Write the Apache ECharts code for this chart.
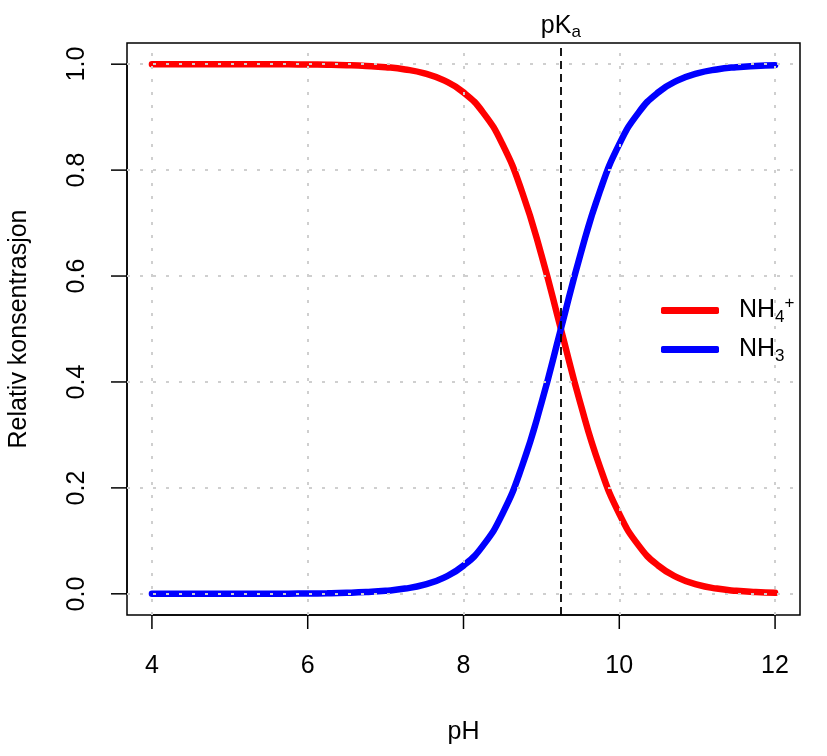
<!DOCTYPE html>
<html>
<head>
<meta charset="utf-8">
<script src="https://cdn.jsdelivr.net/npm/echarts@6/dist/echarts.min.js"></script>
<style>html,body{margin:0;padding:0;background:#fff;}#c{width:827px;height:756px;}</style>
</head>
<body>
<div id="c"></div>
<script>
const phValues = [4.0, 4.5, 5.0, 5.5, 5.75, 6.0, 6.25, 6.5, 6.75, 7.0, 7.25, 7.5, 7.75, 8.0, 8.25, 8.5, 8.75, 9.0, 9.25, 9.5, 9.75, 10.0, 10.25, 10.5, 10.75, 11.0, 11.25, 11.5, 11.75, 12.0];
const nh4Values = [1.000, 1.000, 1.000, 0.9998, 0.9997, 0.9994, 0.9990, 0.9982, 0.9968, 0.9944, 0.9901, 0.9825, 0.9693, 0.9468, 0.9091, 0.8490, 0.7597, 0.6401, 0.5000, 0.3599, 0.2403, 0.1510, 0.0909, 0.0532, 0.0307, 0.0175, 0.0099, 0.0056, 0.0032, 0.0018];
const nh3Values = [0.000, 0.000, 0.000, 0.0002, 0.0003, 0.0006, 0.0010, 0.0018, 0.0032, 0.0056, 0.0099, 0.0175, 0.0307, 0.0532, 0.0909, 0.1510, 0.2403, 0.3599, 0.5000, 0.6401, 0.7597, 0.8490, 0.9091, 0.9468, 0.9693, 0.9825, 0.9901, 0.9944, 0.9968, 0.9982];
const xTicks = [4, 6, 8, 10, 12];
const yTicks = [0, 0.2, 0.4, 0.6, 0.8, 1.0];
const pKa = 9.25;

const X_MIN = 3.68, X_MAX = 12.32, Y_MIN = -0.04, Y_MAX = 1.04;
const FONT = 'Liberation Sans';
const chart = echarts.init(document.getElementById('c'));
const gridLines = xTicks.map(v => ({xAxis: v})).concat(yTicks.map(v => ({yAxis: v})));

chart.setOption({
  animation: false,
  textStyle: {fontFamily: FONT, color: '#000'},
  grid: [
    {left: 127, right: 27, top: 43, bottom: 141, show: true, borderColor: '#000', borderWidth: 1.5,
      backgroundColor: 'transparent', outerBoundsMode: 'none', containLabel: false},
    {left: 152, right: 52, top: 64, bottom: 162, show: false, outerBoundsMode: 'none', containLabel: false}
  ],
  xAxis: [
    {gridIndex: 0, type: 'value', min: X_MIN, max: X_MAX, show: false},
    {
      gridIndex: 1, type: 'value', min: 4, max: 12, interval: 2, offset: 21,
      name: 'pH', nameLocation: 'middle', nameGap: 105,
      nameTextStyle: {fontSize: 25, fontFamily: FONT, color: '#000'},
      axisLine: {show: true, onZero: false, lineStyle: {color: '#000', width: 1.5}},
      axisTick: {show: false},
      axisLabel: {fontSize: 25, fontFamily: FONT, color: '#000', margin: 39},
      splitLine: {show: false}
    }
  ],
  yAxis: [
    {gridIndex: 0, type: 'value', min: Y_MIN, max: Y_MAX, show: false},
    {
      gridIndex: 1, type: 'value', min: 0, max: 1, interval: 0.2, offset: 25,
      name: 'Relativ konsentrasjon', nameLocation: 'middle', nameGap: 95,
      nameTextStyle: {fontSize: 25, fontFamily: FONT, color: '#000'},
      axisLine: {show: true, onZero: false, lineStyle: {color: '#000', width: 1.5}},
      axisTick: {show: false},
      axisLabel: {rotate: 90, fontSize: 25, fontFamily: FONT, color: '#000', margin: 37,
        formatter: v => v.toFixed(1)},
      splitLine: {show: false}
    }
  ],
  legend: {
    data: ['NH4', 'NH3'],
    orient: 'vertical', left: 656, top: 290,
    icon: 'roundRect', itemWidth: 58, itemHeight: 7, itemGap: 11,
    textStyle: {
      fontSize: 25, fontFamily: FONT, color: '#000', padding: [0, 0, 0, 15],
      rich: {
        n: {fontSize: 25, fontFamily: FONT, color: '#000'},
        sub: {fontSize: 17, fontFamily: FONT, color: '#000', verticalAlign: 'bottom', padding: [14, 0, 0, 0]},
        sup: {fontSize: 17, fontFamily: FONT, color: '#000', verticalAlign: 'top', padding: [0, 0, 14, 0]}
      }
    },
    formatter: name => name === 'NH4' ? '{n|NH}{sub|4}{sup|+}' : '{n|NH}{sub|3}'
  },
  series: [
    {
      name: 'NH4', type: 'line', smooth: true, showSymbol: false, z: 2,
      xAxisIndex: 0, yAxisIndex: 0,
      color: '#ff0000',
      lineStyle: {color: '#ff0000', width: 6.5, cap: 'round'},
      data: phValues.map((x, i) => [x, nh4Values[i]])
    },
    {
      name: 'NH3', type: 'line', smooth: true, showSymbol: false, z: 2,
      xAxisIndex: 0, yAxisIndex: 0,
      color: '#0000ff',
      lineStyle: {color: '#0000ff', width: 6.5, cap: 'round'},
      data: phValues.map((x, i) => [x, nh3Values[i]])
    },
    {
      name: 'grid', type: 'line', data: [], z: 10,
      xAxisIndex: 0, yAxisIndex: 0,
      markLine: {
        silent: true, symbol: 'none', animation: false,
        label: {show: false},
        lineStyle: {color: '#cfcfcf', type: [3, 10], width: 2},
        data: gridLines
      }
    },
    {
      name: 'pka', type: 'line', data: [], z: 11,
      xAxisIndex: 0, yAxisIndex: 0,
      markLine: {
        silent: true, symbol: 'none', animation: false,
        lineStyle: {color: '#000', type: [8, 5], width: 1.8},
        label: {
          show: true, position: 'end', distance: 2,
          formatter: '{p|pK}{a|a}',
          rich: {
            p: {fontSize: 25, fontFamily: FONT, color: '#000'},
            a: {fontSize: 17, fontFamily: FONT, color: '#000', verticalAlign: 'bottom', padding: [12, 0, 0, 0]}
          }
        },
        data: [{xAxis: pKa}]
      }
    }
  ]
});

// Axis tick marks, positioned through the library's own coordinate conversion.
const finder = {xAxisIndex: 0, yAxisIndex: 0};
const tickGraphics = [];
xTicks.forEach(v => {
  const p = chart.convertToPixel(finder, [v, Y_MIN]);
  tickGraphics.push({type: 'line', z: 100, silent: true,
    shape: {x1: p[0], y1: p[1], x2: p[0], y2: p[1] + 14},
    style: {stroke: '#000', lineWidth: 1.5}});
});
yTicks.forEach(v => {
  const p = chart.convertToPixel(finder, [X_MIN, v]);
  tickGraphics.push({type: 'line', z: 100, silent: true,
    shape: {x1: p[0] - 16, y1: p[1], x2: p[0], y2: p[1]},
    style: {stroke: '#000', lineWidth: 1.5}});
});
chart.setOption({graphic: tickGraphics});
</script>
</body>
</html>
